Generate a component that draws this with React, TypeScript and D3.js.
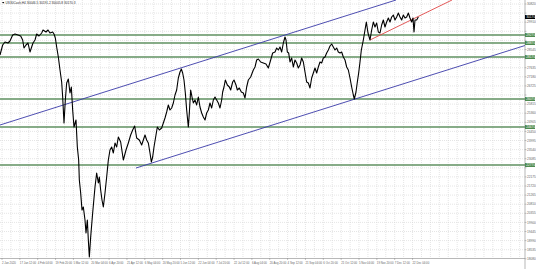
import React from "react";
import * as d3 from "d3";

// [trading session index since 2 Jan 2020, price]
const series: [number, number][] = [
  [0,28270],[1.6,28770],[3,28920],[4.8,28870],[6,28970],[7.6,29270],[9,29320],[10.8,29270],[12.4,29220],[13.6,29020],[14.4,28620],[15.6,28770],[16.8,28870],[18,28420],[19,28670],[19.8,28870],[21,29020],[22,29320],[23.4,29220],[25,29370],[25.8,29520],[27.6,29420],[28.8,29520],[30,29370],[31.6,29420],[32.4,29320],[33.2,29120],[34,28670],[35,28170],[36,27520],[37,26920],[37.6,26170],[38.4,24870],[39.2,26020],[40,26870],[41,27070],[42,26370],[42.8,26670],[43.6,25520],[44.4,24670],[45.6,25020],[46.4,23670],[47.2,23020],[47.6,22020],[48.4,21370],[49.2,20520],[50,20670],[51,20020],[51.6,19370],[52.4,20020],[53,19020],[53.6,18170],[54.4,19170],[55.6,20370],[57,21670],[58,22370],[59,21870],[59.6,22170],[60.4,21520],[61.2,21020],[62,20670],[63,21370],[64,22170],[65,23020],[66,23520],[67,23670],[68,23370],[69,23870],[70,23670],[71,24170],[72.4,23920],[74,23020],[75.6,23520],[77,23870],[78.4,24270],[79.6,24520],[80.8,24720],[82,24120],[83.6,24020],[85,23770],[86,24020],[87,24270],[88,24020],[89,23870],[90,23370],[90.8,22920],[91.6,23170],[92.4,23670],[93.6,24270],[94.4,24670],[95.6,24520],[97,24620],[98,24870],[99,25120],[100,25420],[101,25770],[102,25520],[103,25620],[104,25870],[105,26270],[106,26520],[107,27120],[108,27420],[108.8,27570],[109.6,27370],[110.4,27020],[111.2,26370],[112,25520],[113,24670],[113.6,25370],[114.4,26520],[115.2,26170],[116,25870],[117,26020],[118,25770],[119,26170],[120,25670],[121,25370],[122,25170],[123,25020],[124,25370],[125,25520],[126,25870],[127,25620],[128,26020],[129,26170],[130,26020],[131,25870],[132,25620],[133,26020],[133.6,26420],[134.4,26670],[135.2,27020],[136.4,26770],[137.6,26670],[138.4,26520],[139.6,26920],[140.4,27020],[141.6,26770],[142.4,26520],[143.6,26620],[144.8,26420],[146,26370],[147,26120],[148,26670],[149,27020],[150.4,27170],[152,27520],[153,27670],[154,28020],[155,28070],[156.4,27920],[158,27870],[159.6,27820],[161,27620],[162.4,28020],[163.6,28370],[165,28420],[166,28620],[167,28520],[168,28670],[169,28420],[170,28870],[171,29170],[171.6,29020],[172.4,28420],[173.2,28370],[174,27920],[175,28120],[176,27670],[177,28020],[178,27870],[179,27620],[180,27770],[181,28120],[182,27920],[183,27420],[184,26920],[185,26870],[186,26620],[187,27120],[188,27370],[189,27620],[190,27370],[191,27670],[192,27920],[193,27870],[194,28120],[195,28170],[196,28370],[197,28520],[198,28720],[199,28820],[200,28670],[201,28520],[202,28620],[203,28420],[204,28370],[205,28420],[206,28170],[207,28020],[208,27670],[209,27520],[210,27120],[211,26670],[212,26270],[212.6,26070],[213.6,26420],[214.4,26920],[215.2,27370],[216,27920],[216.8,28520],[218,29020],[219,29520],[219.8,29920],[220.8,29370],[222,29020],[223,29520],[224,29920],[225,29670],[226,29870],[227,29420],[228,29370],[229,29770],[230,30020],[231,29670],[232,29920],[233,30120],[234,29920],[235,30170],[236,30270],[237,30020],[238,30170],[239,30370],[240,30170],[241,30020],[242,30270],[243,30120],[244,30170],[245,30370],[246,30120],[247,29920],[247.8,30120],[248.4,29420],[249,30020],[250,30020],[251,30170]
];

const supportLevels = [29270, 28870, 28170, 26070, 24670, 22770];

const upperChannel: [number, number][] = [[0, 24770], [237.6, 31020]];
const lowerChannel: [number, number][] = [[81.6, 22620], [315, 28745]];
const redTrend: [number, number][] = [[222, 29020], [271.2, 31020]];

const priceTicks = [30820, 30365, 29910, 29455, 29000, 28545, 28090, 27635, 27180, 26725, 26270, 25815, 25360, 24905, 24450, 23995, 23540, 23085, 22630, 22175, 21720, 21265, 20810, 20355, 19900, 19445, 18990, 18535, 18080];

const timeLabels = ["2 Jan 2020","17 Jan 12:00","4 Feb 04:00","19 Feb 20:00","5 Mar 12:00","20 Mar 04:00","6 Apr 20:00","21 Apr 12:00","6 May 04:00","20 May 20:00","5 Jun 12:00","22 Jun 04:00","7 Jul 20:00","22 Jul 12:00","6 Aug 04:00","20 Aug 20:00","4 Sep 12:00","21 Sep 04:00","6 Oct 20:00","21 Oct 12:00","5 Nov 04:00","19 Nov 20:00","7 Dec 12:00","22 Dec 04:00"];

const title = "US30Cash,H4  30046.5 30191.2 30005.8 30170.3";

const W = 536, H = 269;
const plotRight = 525, plotBottom = 258;

export default function App() {
  const x = d3.scaleLinear().domain([0, 315]).range([0, plotRight]);
  const y = d3.scaleLinear().domain([18120, 30820]).range([plotBottom, 4]);
  const line = d3.line<[number, number]>().x(d => x(d[0])).y(d => y(d[1]));
  const timeStep = 10.71;
  const timeTicks = timeLabels.map((_, i) => 1.2 + i * timeStep);
  const vGrid = d3.range(0, timeLabels.length * 2 + 12).map(i => 1.2 + i * timeStep / 2).filter(t => x(t) < plotRight);
  const last = series[series.length - 1][1];
  const highlighted = [...supportLevels, last];
  const freeTicks = priceTicks.filter(p => highlighted.every(h => Math.abs(y(p) - y(h)) > 4.2));
  const font = "'Liberation Sans', Arial, sans-serif";
  const fs = 3.2;
  const tfs = 2.8;
  const seg = (d: [number, number][]) => ({ x1: x(d[0][0]), y1: y(d[0][1]), x2: x(d[1][0]), y2: y(d[1][1]) });
  return (
    <svg width={W} height={H} style={{ position: "absolute", left: 0, top: 0, background: "#fff" }} fontFamily={font}>
      <defs>
        <clipPath id="plot"><rect x={0} y={0} width={plotRight} height={plotBottom} /></clipPath>
      </defs>
      <rect x={0} y={0} width={W} height={H} fill="#fff" />
      <g clipPath="url(#plot)">
        {priceTicks.map(p => (
          <line key={"h" + p} x1={0} x2={plotRight} y1={y(p)} y2={y(p)} stroke="#d4d4d4" strokeWidth={0.6} strokeDasharray="1,1" />
        ))}
        {vGrid.map(t => (
          <line key={"v" + t} x1={x(t)} x2={x(t)} y1={0} y2={plotBottom} stroke="#d4d4d4" strokeWidth={0.6} strokeDasharray="1,1" />
        ))}
        {supportLevels.map(p => (
          <line key={"s" + p} x1={0} x2={plotRight} y1={y(p)} y2={y(p)} stroke="#5f9060" strokeWidth={1.3} />
        ))}
        <line {...seg(upperChannel)} stroke="#3a3aa8" strokeWidth={0.9} />
        <line {...seg(lowerChannel)} stroke="#3a3aa8" strokeWidth={0.9} />
        <line {...seg(redTrend)} stroke="#e04646" strokeWidth={0.9} />
        <path d={line(series) || ""} fill="none" stroke="#000" strokeWidth={1.1} strokeLinejoin="round" />
      </g>
      <line x1={plotRight} x2={plotRight} y1={0} y2={H} stroke="#888" strokeWidth={0.6} />
      <line x1={0} x2={plotRight} y1={plotBottom + 0.5} y2={plotBottom + 0.5} stroke="#888" strokeWidth={0.6} />
      {priceTicks.map(p => (
        <line key={"pk" + p} x1={plotRight} x2={plotRight + 1.5} y1={y(p)} y2={y(p)} stroke="#888" strokeWidth={0.5} />
      ))}
      {freeTicks.map(p => (
        <text key={"pt" + p} x={plotRight + 2} y={y(p) + 1.1} fontSize={fs} fill="#666">{p}</text>
      ))}
      {supportLevels.map(p => (
        <g key={"sl" + p}>
          <rect x={plotRight} y={y(p) - 2} width={10} height={4} fill="#4f8a50" />
          <text x={plotRight + 1.3} y={y(p) + 1.1} fontSize={fs} fill="#fff">{p}</text>
        </g>
      ))}
      <rect x={plotRight} y={y(last) - 2} width={10} height={4} fill="#000" />
      <text x={plotRight + 1.3} y={y(last) + 1.1} fontSize={fs} fill="#fff">{last}</text>
      {timeTicks.map((t, i) => (
        <g key={"tt" + i}>
          <line x1={x(t)} x2={x(t)} y1={plotBottom} y2={plotBottom + 2} stroke="#888" strokeWidth={0.5} />
          <text x={x(t)} y={plotBottom + 5.5} fontSize={tfs} fill="#666">{timeLabels[i]}</text>
        </g>
      ))}
      <path d="M2,2 L4.4,2 L3.2,3.6 Z" fill="#000" />
      <text x={5.5} y={3.6} fontSize={fs} fill="#333">{title}</text>
    </svg>
  );
}
